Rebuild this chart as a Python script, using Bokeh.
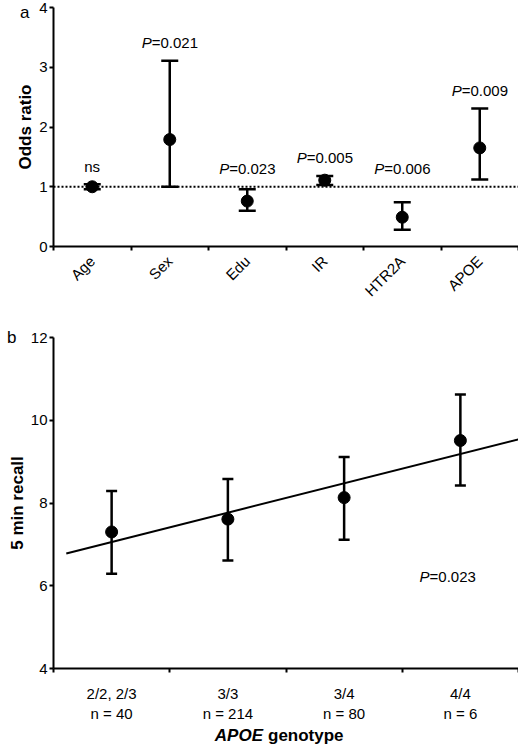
from math import pi

from bokeh.plotting import figure
from bokeh.models import (ColumnDataSource, Range1d, FixedTicker, Whisker,
                          TeeHead, Span, Label, LabelSet, LinearAxis)
from bokeh.core.properties import value
from bokeh.layouts import column
from bokeh.embed import file_html
from bokeh.resources import INLINE

# panel a: odds ratios with 95% CI
factors = ["Age", "Sex", "Edu", "IR", "HTR2A", "APOE"]
odds = [1.00, 1.79, 0.76, 1.11, 0.49, 1.65]
odds_low = [0.96, 1.00, 0.60, 1.03, 0.28, 1.12]
odds_high = [1.04, 3.11, 0.96, 1.18, 0.74, 2.31]
p_text = ["ns", "0.021", "0.023", "0.005", "0.006", "0.009"]

# panel b: 5 min recall by APOE genotype
genotypes = ["2/2, 2/3", "3/3", "3/4", "4/4"]
n_counts = [40, 214, 80, 6]
recall = [7.30, 7.61, 8.13, 9.51]
recall_low = [6.29, 6.61, 7.11, 8.42]
recall_high = [8.29, 8.58, 9.11, 10.62]
trend_x = [0.11, 4.0]
trend_y = [6.78, 9.54]
trend_p = "0.023"

FONT = "Liberation Sans"
LEFT = 53


def style_axes(p):
    p.grid.visible = False
    p.outline_line_color = None
    for ax in (p.xaxis[0], p.yaxis[0]):
        ax.axis_line_width = 2
        ax.axis_line_color = "black"
        ax.major_tick_line_width = 2
        ax.minor_tick_line_width = 2
        ax.major_tick_line_color = "black"
        ax.minor_tick_line_color = "black"
        ax.major_label_text_font = FONT
        ax.major_label_text_font_size = "15px"
        ax.major_label_text_color = "black"
        ax.axis_label_text_font = FONT
        ax.axis_label_text_font_size = "17px"
        ax.axis_label_text_font_style = "bold"
        ax.axis_label_text_color = "black"
    # x ticks sit between the categories
    p.xaxis.major_tick_out = 0
    p.xaxis.major_tick_in = 0
    p.xaxis.minor_tick_out = 4
    p.xaxis.minor_tick_in = 0
    p.yaxis.major_tick_out = 4
    p.yaxis.major_tick_in = 0
    p.yaxis.minor_tick_line_color = None
    p.yaxis.major_label_standoff = 2
    p.yaxis.axis_label_standoff = 1


def panel_letter(p, letter, at, standoff):
    # outer left axis carrying only the panel letter
    ax = LinearAxis(ticker=FixedTicker(ticks=[at]),
                    major_label_overrides={at: letter},
                    axis_line_color=None, major_tick_line_color=None,
                    minor_tick_line_color=None, major_tick_out=0,
                    major_tick_in=0, minor_tick_out=0, minor_tick_in=0,
                    major_label_standoff=standoff, major_label_text_font=FONT,
                    major_label_text_font_size="17px",
                    major_label_text_color="black")
    p.add_layout(ax, "left")


# ---------------- panel a ----------------
xa = [i + 0.5 for i in range(len(factors))]
src_a = ColumnDataSource(data=dict(x=xa, y=odds, low=odds_low, high=odds_high))

pa = figure(width=518, height=318, x_range=Range1d(0, len(factors)),
            y_range=Range1d(0, 4), output_backend="svg", toolbar_location=None,
            min_border_left=LEFT, min_border_right=0, min_border_top=7,
            min_border_bottom=72)

pa.add_layout(Span(location=1, dimension="width", line_dash="2 2",
                   line_width=2, line_color="black"))

pa.add_layout(Whisker(base="x", lower="low", upper="high", source=src_a,
                      line_width=2.5, line_color="black",
                      lower_head=TeeHead(size=17, line_width=2.5, line_color="black"),
                      upper_head=TeeHead(size=17, line_width=2.5, line_color="black")))
pa.scatter("x", "y", size=12, color="black", source=src_a)

style_axes(pa)
pa.xaxis.ticker = FixedTicker(ticks=xa, minor_ticks=list(range(len(factors) + 1)))
pa.xaxis.major_label_overrides = {x: f for x, f in zip(xa, factors)}
pa.xaxis.major_label_orientation = pi / 4
pa.xaxis.major_label_standoff = 8
pa.yaxis.ticker = FixedTicker(ticks=[0, 1, 2, 3, 4])
pa.yaxis.axis_label = "Odds ratio"
panel_letter(pa, "a", 4, -16)

# P value labels: italic "P" + upright rest
lab_y = [max(h, 1.0) for h in odds_high]
p_part = ["" if t == "ns" else "P" for t in p_text]
rest = ["ns" if t == "ns" else "=" + t for t in p_text]
offs = [-8 if t == "ns" else -18 for t in p_text]
src_lab = ColumnDataSource(data=dict(x=xa, y=lab_y, p=p_part, rest=rest, off=offs))
pa.add_layout(LabelSet(x="x", y="y", text="p", source=src_lab, x_offset="off",
                       y_offset=18, text_align="right", text_baseline="middle",
                       text_font=value(FONT), text_font_size="15px",
                       text_font_style="italic", text_color="black"))
pa.add_layout(LabelSet(x="x", y="y", text="rest", source=src_lab, x_offset="off",
                       y_offset=18, text_align="left", text_baseline="middle",
                       text_font=value(FONT), text_font_size="15px",
                       text_color="black"))

# ---------------- panel b ----------------
xb = [i + 0.5 for i in range(len(genotypes))]
src_b = ColumnDataSource(data=dict(x=xb, y=recall, low=recall_low, high=recall_high))

pb = figure(width=518, height=406, x_range=Range1d(0, len(genotypes)),
            y_range=Range1d(4, 12), output_backend="svg", toolbar_location=None,
            min_border_left=LEFT, min_border_right=0, min_border_top=19,
            min_border_bottom=52)

pb.line(trend_x, trend_y, line_width=2, line_color="black")
pb.add_layout(Whisker(base="x", lower="low", upper="high", source=src_b,
                      line_width=2.5, line_color="black",
                      lower_head=TeeHead(size=11, line_width=2.5, line_color="black"),
                      upper_head=TeeHead(size=11, line_width=2.5, line_color="black")))
pb.scatter("x", "y", size=12, color="black", source=src_b)

style_axes(pb)
pb.xaxis.ticker = FixedTicker(ticks=xb, minor_ticks=list(range(len(genotypes) + 1)))
pb.xaxis.major_label_overrides = {
    x: f"{g}\nn = {n}" for x, g, n in zip(xb, genotypes, n_counts)}
pb.xaxis.major_label_standoff = 12
pb.yaxis.ticker = FixedTicker(ticks=[4, 6, 8, 10, 12])
pb.yaxis.axis_label = "5 min recall"
panel_letter(pb, "b", 12, -12)

pb.add_layout(Label(x=3.39, y=6.23, x_offset=-18, text="P", text_align="right",
                    text_baseline="middle", text_font=FONT, text_font_size="15px",
                    text_font_style="italic", text_color="black"))
pb.add_layout(Label(x=3.39, y=6.23, x_offset=-18, text="=" + trend_p,
                    text_align="left", text_baseline="middle", text_font=FONT,
                    text_font_size="15px", text_color="black"))

# x axis title strip: italic bold APOE + bold "genotype"
pc = figure(width=518, height=22, x_range=pb.x_range, y_range=Range1d(0, 1),
            output_backend="svg", toolbar_location=None,
            x_axis_location=None, y_axis_location=None,
            min_border_left=LEFT, min_border_right=0, min_border_top=0,
            min_border_bottom=0)
pc.outline_line_color = None
pc.grid.visible = False
mid = len(genotypes) / 2
pc.add_layout(Label(x=mid, y=0.5, x_offset=-23, text="APOE",
                    text_align="right", text_baseline="middle", text_font=FONT,
                    text_font_size="17px", text_font_style="bold italic",
                    text_color="black"))
pc.add_layout(Label(x=mid, y=0.5, x_offset=-18, text="genotype",
                    text_align="left", text_baseline="middle", text_font=FONT,
                    text_font_size="17px", text_font_style="bold",
                    text_color="black"))

layout = column(pa, pb, pc, spacing=0)
open("out.html", "w").write(file_html(layout, INLINE))
